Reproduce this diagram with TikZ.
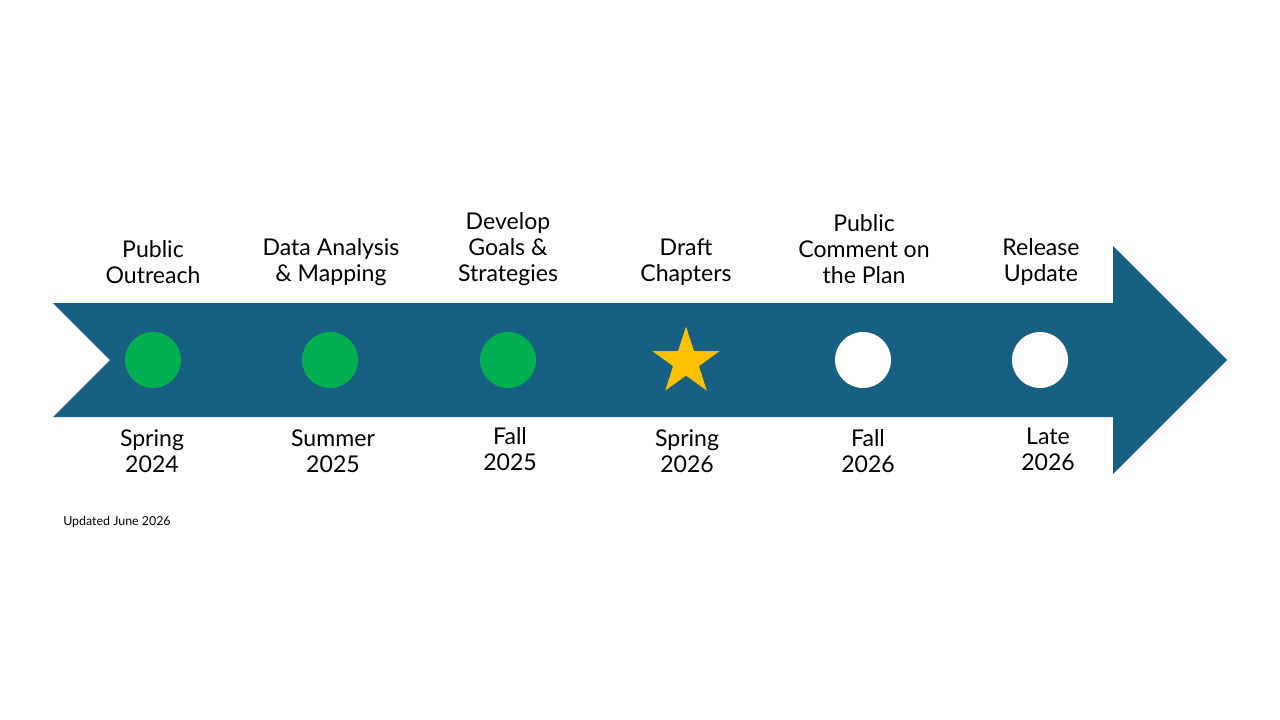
\documentclass[tikz,border=0pt]{standalone}
\usepackage{fontspec}
\setmainfont{Lato}
\usetikzlibrary{shapes.geometric}
\definecolor{arrowblue}{RGB}{23,96,130}
\definecolor{dotgreen}{RGB}{0,176,80}
\definecolor{stargold}{RGB}{255,192,0}
\begin{document}
\begin{tikzpicture}[x=0.75pt,y=-0.75pt,
  lbl/.style={align=center,font=\fontsize{17.3}{19.5}\selectfont,inner sep=0pt},
  done/.style={circle,fill=dotgreen,minimum size=42pt,inner sep=0pt},
  todo/.style={circle,fill=white,minimum size=42pt,inner sep=0pt}]
\useasboundingbox (0,0) rectangle (1280,720);
\fill[arrowblue] (53,303) -- (1113,303) -- (1113,246) -- (1227,360) -- (1113,474) -- (1113,417) -- (53,417) -- (110,360) -- cycle;
\node[done] (m1) at (153,360) {};
\node[done] (m2) at (330,360) {};
\node[done] (m3) at (508,360) {};
\node[star,star points=5,star point ratio=2.6,fill=stargold,minimum size=53pt,inner sep=0pt] (m4) at (686,362) {};
\node[todo] (m5) at (863,360) {};
\node[todo] (m6) at (1040,360) {};
\node[lbl] (t1) at (153,262) {Public\\Outreach};
\node[lbl] (t2) at (331,262) {Data Analysis\\\& Mapping};
\node[lbl] (t3) at (508,249) {Develop\\Goals \&\\Strategies};
\node[lbl] (t4) at (686,262) {Draft\\Chapters};
\node[lbl] (t5) at (864,249) {Public\\Comment on\\the Plan};
\node[lbl] (t6) at (1041,262) {Release\\Update};
\node[lbl] (b1) at (152,451) {Spring\\2024};
\node[lbl] (b2) at (333,451) {Summer\\2025};
\node[lbl] (b3) at (510,449) {Fall\\2025};
\node[lbl] (b4) at (687,451) {Spring\\2026};
\node[lbl] (b5) at (868,451) {Fall\\2026};
\node[lbl] (b6) at (1048,449) {Late\\2026};
\node[anchor=west,font=\fontsize{9.3}{11}\selectfont,inner sep=0pt] (upd) at (63,522) {Updated June 2026};
\end{tikzpicture}
\end{document}
